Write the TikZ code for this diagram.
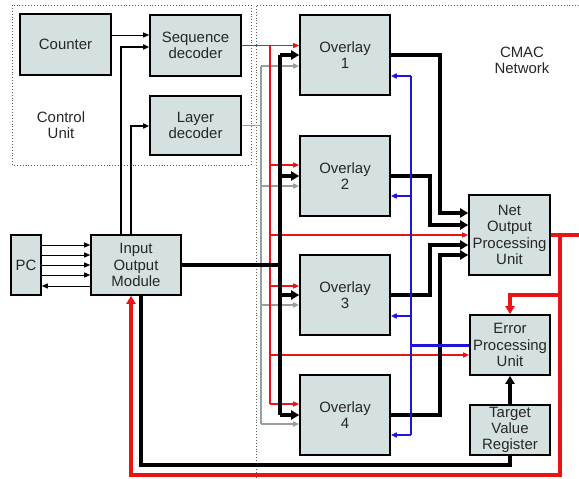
\documentclass[tikz,border=0pt]{standalone}
\usepackage{fontspec}
\setmainfont{Liberation Sans}
\usetikzlibrary{arrows.meta}
\definecolor{boxfill}{RGB}{213,224,224}
\definecolor{redl}{RGB}{235,20,20}
\definecolor{grayl}{RGB}{150,160,158}
\definecolor{bluel}{RGB}{30,20,220}
\definecolor{dotc}{RGB}{90,90,90}
\tikzset{
  box/.style={draw=black, line width=1.6bp, fill=boxfill, align=center, inner sep=0pt,
    font=\fontsize{15}{16.3}\selectfont, text=black!85},
  lbl/.style={align=center, font=\fontsize{15}{16.3}\selectfont, text=black!85},
  dotbox/.style={draw=dotc, dotted, line width=0.9bp},
  thinb/.style={black, line width=0.9bp},
  thinarrow/.style={-{Triangle[length=6bp,width=5bp]}},
  midb/.style={black, line width=2.8bp},
  bus/.style={black, line width=3.6bp},
  bigarrow/.style={-{Triangle[length=8bp,width=9bp]}},
  redthin/.style={redl, line width=1.2bp},
  redthick/.style={redl, line width=3.8bp},
  grayw/.style={grayl, line width=1.8bp},
  bluew/.style={bluel, line width=2.2bp},
}
\begin{document}
\begin{tikzpicture}[x=1bp,y=-1bp]
\useasboundingbox (0,0) rectangle (579,479);
% dotted frames
\draw[dotbox] (12,5) rectangle (251,165);
\draw[dotbox] (579,5) -- (256,5) -- (256,479);
\node[lbl] (cu) at (61,125) {Control\\Unit};
\node[lbl] (cmac) at (522,60) {CMAC\\Network};
% boxes
\node[box, minimum width=91bp, minimum height=61bp] (counter) at (65.5,44.5) {Counter};
\node[box, minimum width=91bp, minimum height=61bp] (seq) at (195.5,45.5) {Sequence\\decoder};
\node[box, minimum width=91bp, minimum height=59bp] (layer) at (195.5,125.5) {Layer\\decoder};
\node[box, minimum width=90bp, minimum height=80bp] (ov1) at (345,55) {Overlay\\1};
\node[box, minimum width=90bp, minimum height=80bp] (ov2) at (345,176) {Overlay\\2};
\node[box, minimum width=90bp, minimum height=80bp] (ov3) at (345,295) {Overlay\\3};
\node[box, minimum width=90bp, minimum height=80bp] (ov4) at (345,415) {Overlay\\4};
\node[box, minimum width=81bp, minimum height=80bp] (net) at (509.5,235) {Net\\Output\\Processing\\Unit};
\node[box, minimum width=80bp, minimum height=60bp] (err) at (510,345) {Error\\Processing\\Unit};
\node[box, minimum width=80bp, minimum height=50bp] (tvr) at (510,430) {Target\\Value\\Register};
\node[box, minimum width=30bp, minimum height=60bp] (pc) at (26,265) {PC};
\node[box, minimum width=90bp, minimum height=60bp] (io) at (136,265) {Input\\Output\\Module};
% counter -> sequence decoder
\draw[thinb,thinarrow] (counter.east |- 0,35) -- (seq.west |- 0,35);
% io -> decoders
\draw[midb,thinarrow,line join=miter] (121,0 |- io.north) |- (seq.west |- 0,47);
\draw[midb,thinarrow,line join=miter] (131,0 |- io.north) |- (layer.west |- 0,126);
% pc <-> io
\draw[thinb,thinarrow] (pc.east |- 0,245) -- (io.west |- 0,245);
\draw[thinb,thinarrow] (pc.east |- 0,255) -- (io.west |- 0,255);
\draw[thinb,thinarrow] (pc.east |- 0,265) -- (io.west |- 0,265);
\draw[thinb,thinarrow] (pc.east |- 0,275) -- (io.west |- 0,275);
\draw[thinb,thinarrow] (io.west |- 0,286) -- (pc.east |- 0,286);
% gray bus from layer decoder
\draw[grayw] (layer.east) -- (261,0 |- layer.east);
\draw[grayw] (261,66) -- (261,424);
\draw[grayw,thinarrow] (261,66) -- (ov1.west |- 0,66);
\draw[grayw,thinarrow] (261,186) -- (ov2.west |- 0,186);
\draw[grayw,thinarrow] (261,305) -- (ov3.west |- 0,305);
\draw[grayw,thinarrow] (261,424) -- (ov4.west |- 0,424);
% red bus from sequence decoder
\draw[redthin,thinarrow] (seq.east) -- (ov1.west |- seq.east);
\draw[redthin] (270,0 |- seq.east) -- (270,404);
\draw[redthin,thinarrow] (270,165) -- (ov2.west |- 0,165);
\draw[redthin,thinarrow] (270,235) -- (net.west);
\draw[redthin,thinarrow] (270,286) -- (ov3.west |- 0,286);
\draw[redthin,thinarrow] (270,355) -- (err.west |- 0,355);
\draw[redthin,thinarrow] (270,404) -- (ov4.west |- 0,404);
% black bus from io
\draw[bus] (io.east) -- (280,0 |- io.east);
\draw[bus] (280,0 |- ov1.west) -- (280,0 |- ov4.west);
\draw[bus,bigarrow] (280,0 |- ov1.west) -- (ov1.west);
\draw[bus,bigarrow] (280,0 |- ov2.west) -- (ov2.west);
\draw[bus,bigarrow] (280,0 |- ov3.west) -- (ov3.west);
\draw[bus,bigarrow] (280,0 |- ov4.west) -- (ov4.west);
% overlay outputs -> net output
\draw[bus,bigarrow,line join=miter] (ov1.east) -| (440,213) -- (net.west |- 0,213);
\draw[bus,bigarrow,line join=miter] (ov2.east) -| (430,225) -- (net.west |- 0,225);
\draw[bus,bigarrow,line join=miter] (ov3.east) -| (430,245) -- (net.west |- 0,245);
\draw[bus,bigarrow,line join=miter] (ov4.east) -| (440,255) -- (net.west |- 0,255);
% blue feedback from error unit
\draw[bluew] (411,76) -- (411,435);
\draw[bluel, line width=3bp] (err.west) -- (411,0 |- err.west);
\draw[bluew,thinarrow] (411,76) -- (ov1.east |- 0,76);
\draw[bluew,thinarrow] (411,196) -- (ov2.east |- 0,196);
\draw[bluew,thinarrow] (411,316) -- (ov3.east |- 0,316);
\draw[bluew,thinarrow] (411,435) -- (ov4.east |- 0,435);
% red thick output
\draw[redthick] (net.east) -- (579,235);
\draw[redthick,bigarrow,line join=miter] (560,295) -| (err.north);
\draw[redthick,bigarrow,line join=miter] (560,235) -- (560,475) -- (131,475) -- (131,0 |- io.south);
% target -> error
\draw[bus,bigarrow] (tvr.north) -- (err.south);
% target -> io
\draw[bus,line join=miter] (tvr.south) -- (510,465) -- (141,465) -- (141,0 |- io.south);
\end{tikzpicture}
\end{document}
